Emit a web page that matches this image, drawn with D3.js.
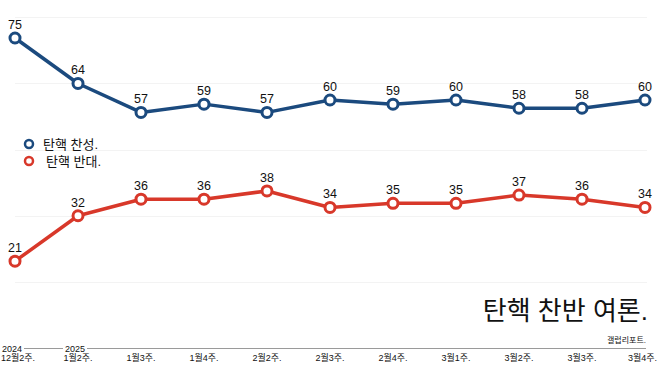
<!DOCTYPE html>
<html><head><meta charset="utf-8">
<script src="https://cdn.jsdelivr.net/npm/d3@7"></script>
<style>
html,body{margin:0;padding:0;background:#fff;}
svg{display:block;font-family:"Liberation Sans","Noto Sans CJK KR",sans-serif;}
</style></head><body>
<svg id="c" width="658" height="370"></svg>
<script>
const categories = ["12월2주.","1월2주.","1월3주.","1월4주.","2월2주.","2월3주.","2월4주.","3월1주.","3월2주.","3월3주.","3월4주."];
const years = [{label:"2024", index:0},{label:"2025", index:1}];
const favor = [75,64,57,59,57,60,59,60,58,58,60];
const oppose = [21,32,36,36,38,34,35,35,37,36,34];
const gridValues = [16,32,48,64,80];
const seriesNames = ["탄핵 찬성.","탄핵 반대."];
const title = "탄핵 찬반 여론.";
const source = "갤럽리포트.";

const svg = d3.select("#c");
const x = d3.scalePoint().domain(categories).range([15,645]);
const y = d3.scaleLinear().domain([0,75]).range([348,38]);

// gridlines
svg.append("g").selectAll("line").data(gridValues).join("line")
  .attr("x1",15).attr("x2",647)
  .attr("y1",d=>Math.round(y(d))+0.5).attr("y2",d=>Math.round(y(d))+0.5)
  .attr("stroke","#f3f3f3").attr("stroke-width",1);

// x axis line
svg.append("line").attr("x1",0).attr("x2",646).attr("y1",348.5).attr("y2",348.5)
  .attr("stroke","#9a9a9a").attr("stroke-width",1.2);

// year labels
const yl = svg.append("g").selectAll("g").data(years).join("g")
  .attr("transform",d=>`translate(${x(categories[d.index])-3},351.5)`);
yl.append("rect").attr("x",-12).attr("y",-9).attr("width",24).attr("height",11).attr("fill","#fff");
yl.append("text").attr("text-anchor","middle").attr("font-size",9).attr("fill","#111").text(d=>d.label);

// category labels
const n = categories.length;
svg.append("g").selectAll("text").data(categories).join("text")
  .attr("x",(d,i)=>i===0?1:(i===n-1?657:x(d)))
  .attr("y",361)
  .attr("text-anchor",(d,i)=>i===0?"start":(i===n-1?"end":"middle"))
  .attr("font-size",9).attr("fill","#111").text(d=>d);

const series = [
  {name:seriesNames[0], values:favor, color:"#1b4a7e"},
  {name:seriesNames[1], values:oppose, color:"#d8382a"}
];
const line = d3.line().x((d,i)=>x(categories[i])).y(d=>y(d));

series.forEach(s=>{
  const g = svg.append("g");
  g.append("path").datum(s.values).attr("d",line).attr("fill","none")
    .attr("stroke",s.color).attr("stroke-width",3.5).attr("stroke-linejoin","round");
  g.selectAll("circle").data(s.values).join("circle")
    .attr("cx",(d,i)=>x(categories[i])).attr("cy",d=>y(d)).attr("r",5)
    .attr("fill","#fff").attr("stroke",s.color).attr("stroke-width",3);
  g.selectAll("text").data(s.values).join("text")
    .attr("x",(d,i)=>x(categories[i])).attr("y",d=>y(d)-9)
    .attr("text-anchor","middle").attr("font-size",12.5).attr("fill","#111").text(d=>d);
});

// legend
const lg = svg.append("g").selectAll("g").data(series).join("g")
  .attr("transform",(d,i)=>`translate(29,${144+i*17})`);
lg.append("circle").attr("r",4).attr("fill","#fff").attr("stroke",d=>d.color).attr("stroke-width",2.5);
lg.append("text").attr("x",(d,i)=>i===0?14:17).attr("y",4.5).attr("font-size",13).attr("fill","#111").text(d=>d.name);

// title & source
svg.append("text").attr("x",648).attr("y",320).attr("text-anchor","end")
  .attr("font-size",26).attr("fill","#111").text(title);
svg.append("text").attr("x",646).attr("y",343).attr("text-anchor","end")
  .attr("font-size",8).attr("fill","#111").text(source);
</script>
</body></html>
